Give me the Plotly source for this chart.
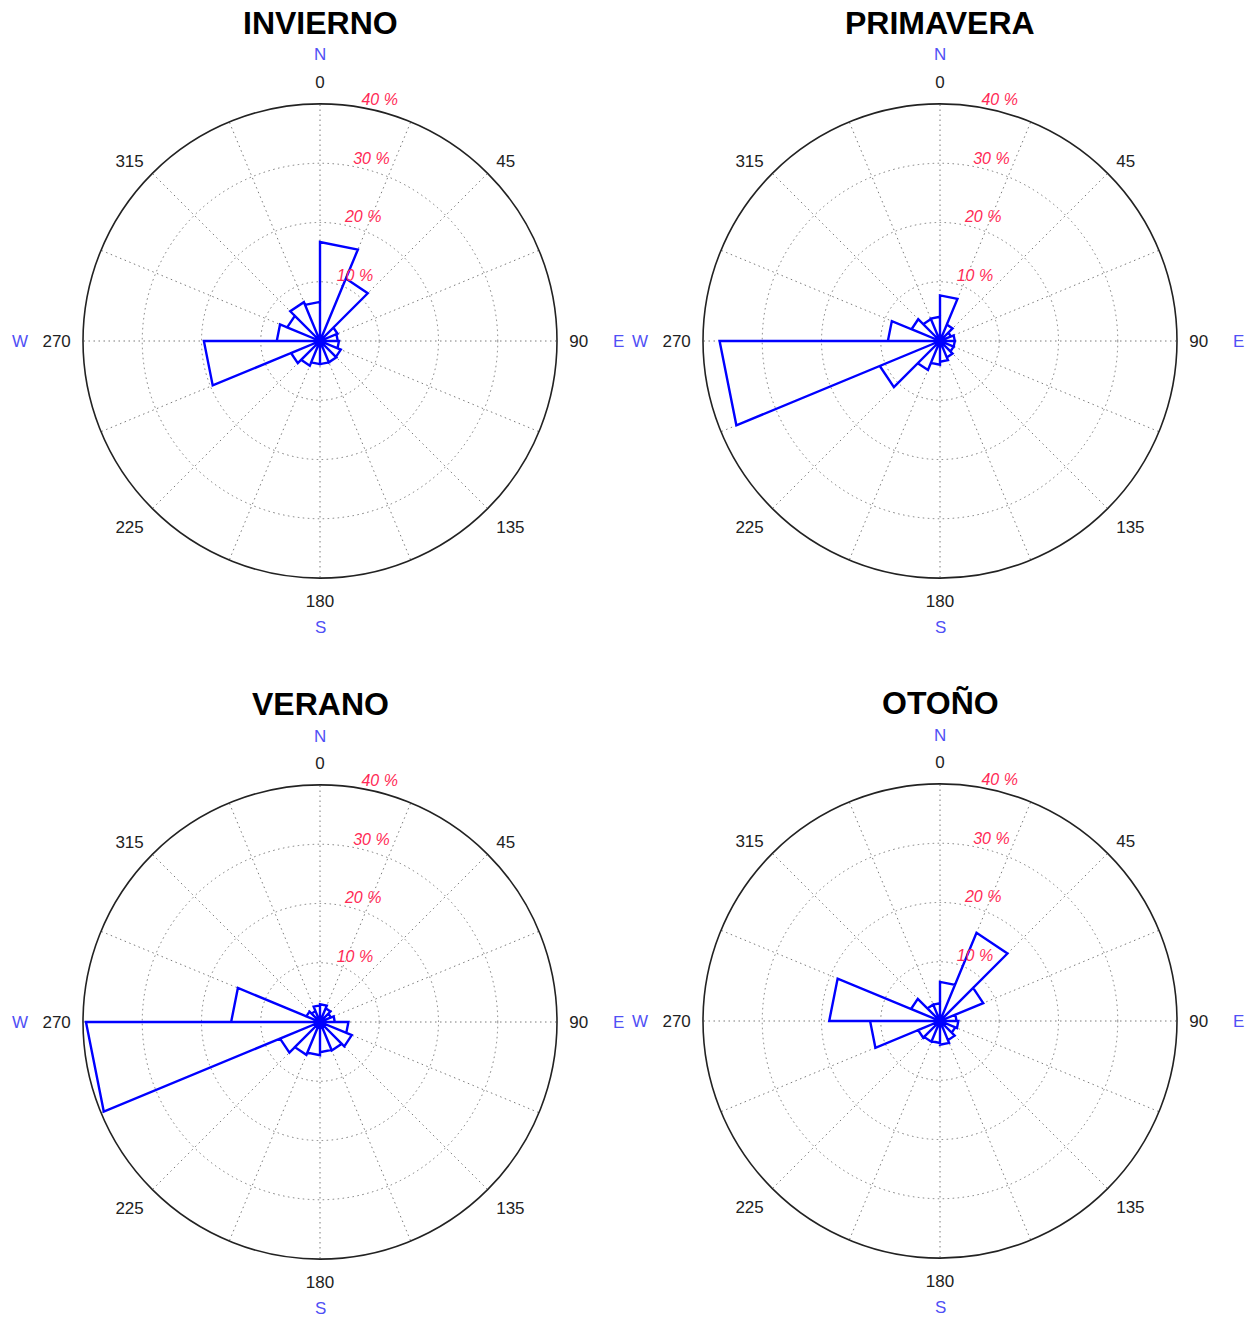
import plotly.graph_objects as go

# ---- data (percent frequency per 22.5 deg sector, sector start angles 0, 22.5, ... clockwise from N)
sector_start = [0, 22.5, 45, 67.5, 90, 112.5, 135, 157.5,
                180, 202.5, 225, 247.5, 270, 292.5, 315, 337.5]
sector_width = 22.5

invierno = [16.7, 11.4, 3.2, 3.0, 3.2, 3.8, 3.9, 3.9,
            3.9, 4.5, 5.3, 19.6, 7.3, 6.0, 7.1, 6.6]
primavera = [7.7, 3.0, 2.0, 2.5, 2.5, 2.5, 3.0, 3.5,
             4.0, 5.3, 11.0, 37.2, 8.8, 5.2, 4.0, 4.1]
verano = [3.0, 2.5, 2.0, 2.5, 4.8, 5.8, 5.2, 5.1,
          5.6, 6.0, 7.3, 39.5, 15.0, 2.5, 2.0, 2.8]
otono = [6.6, 16.1, 7.9, 2.8, 3.1, 2.8, 3.5, 4.0,
         3.7, 3.8, 4.0, 11.8, 18.7, 5.3, 3.0, 3.0]

season_names = ["INVIERNO", "PRIMAVERA", "VERANO", "OTOÑO"]
season_values = [invierno, primavera, verano, otono]

angle_ticks = [0, 22.5, 45, 67.5, 90, 112.5, 135, 157.5,
               180, 202.5, 225, 247.5, 270, 292.5, 315, 337.5]
angle_labels = ["0", "", "45", "", "90", "", "135", "",
                "180", "", "225", "", "270", "", "315", ""]
radial_ticks = [10, 20, 30, 40]
radial_labels = ["10 %", "20 %", "30 %", "40 %"]
compass_letters = ["N", "E", "S", "W"]

# ---- layout geometry (pixels)
W, H = 1259, 1318
R = 237
centers = [(320, 341), (940, 341), (320, 1022), (940, 1021)]

BLUE = "#0000ff"
COMPASS = "#5050f5"
RED = "#ff2a55"
GRID = "#7a7a7a"
FONT = "Liberation Sans, Arial, sans-serif"
RAD_ANGLE = 82
GRID_DASH = "1.5px,3.5px"

fig = go.Figure()
annotations = []

for k, (name, vals) in enumerate(zip(season_names, season_values)):
    r, th = [], []
    for a, v in zip(sector_start, vals):
        r += [0, v, v, 0]
        th += [a, a, a + sector_width, a + sector_width]
    pid = "polar" if k == 0 else f"polar{k+1}"
    fig.add_trace(go.Scatterpolar(
        r=r, theta=th, mode="lines",
        line=dict(color=BLUE, width=2.4),
        subplot=pid, showlegend=False, hoverinfo="skip"))

    cx, cy = centers[k]
    dom_x = [(cx - R) / W, (cx + R) / W]
    dom_y = [1 - (cy + R) / H, 1 - (cy - R) / H]
    fig.update_layout(**{pid: dict(
        domain=dict(x=dom_x, y=dom_y),
        bgcolor="white",
        angularaxis=dict(
            rotation=90, direction="clockwise",
            tickmode="array", tickvals=angle_ticks, ticktext=angle_labels,
            showline=True, linecolor="#222", linewidth=1.6,
            showgrid=True, gridcolor=GRID, griddash=GRID_DASH, gridwidth=1.2,
            ticks="outside", ticklen=8, tickcolor="rgba(0,0,0,0)",
            tickfont=dict(family=FONT, size=17, color="#222"),
        ),
        radialaxis=dict(
            range=[0, 40], angle=RAD_ANGLE, side="clockwise",
            tickangle=RAD_ANGLE,
            tickmode="array", tickvals=radial_ticks,
            ticktext=[t + "<br>&nbsp;" for t in radial_labels],
            showline=False, ticks="",
            showgrid=True, gridcolor=GRID, griddash=GRID_DASH, gridwidth=1.2,
            tickfont=dict(family=FONT, size=16, color=RED, style="italic"),
        ),
    )})

    # title
    annotations.append(dict(
        text=f"<b>{name}</b>", x=cx / W, y=1 - (cy - 318) / H,
        xref="paper", yref="paper", showarrow=False, xanchor="center", yanchor="middle",
        font=dict(family=FONT, size=32, color="black")))
    # compass letters
    offs = {"N": (0, -286), "E": (298, 0), "S": (0, 286), "W": (-300, 0)}
    for letter in compass_letters:
        dx, dy = offs[letter]
        annotations.append(dict(
            text=letter, x=(cx + dx) / W, y=1 - (cy + dy) / H,
            xref="paper", yref="paper", showarrow=False,
            xanchor="center", yanchor="middle",
            font=dict(family=FONT, size=17, color=COMPASS)))

fig.update_layout(
    width=W, height=H, autosize=False,
    margin=dict(l=0, r=0, t=0, b=0),
    paper_bgcolor="white", plot_bgcolor="white",
    annotations=annotations, showlegend=False,
)

fig.write_html("out.html", config={"displayModeBar": False},
               post_script="document.body.style.margin='0';")
